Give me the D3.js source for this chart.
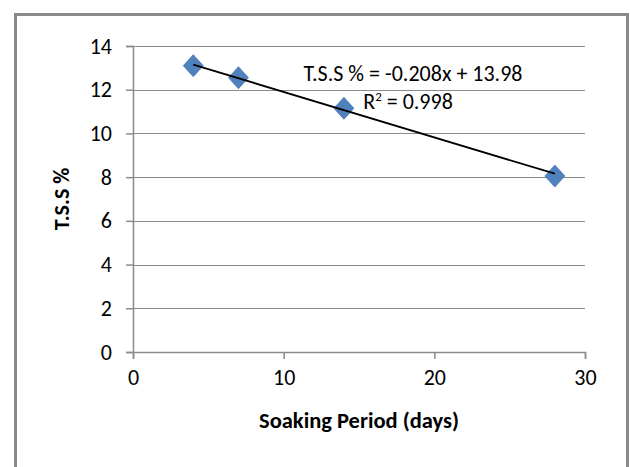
<!DOCTYPE html>
<html><head><meta charset="utf-8">
<script src="https://cdn.jsdelivr.net/npm/d3@7"></script>
<style>
body{margin:0;background:#fff;}
text{font-family:Carlito,Lato,sans-serif;fill:#000;}
</style></head>
<body><svg id="c" width="630" height="467"></svg>
<script>
const soakingDays = [4, 7, 14, 28];
const tssPercent = [13.1, 12.55, 11.15, 8.05];
const xTicks = [0, 10, 20, 30];
const yTicks = [0, 2, 4, 6, 8, 10, 12, 14];
const trendSlope = -0.208, trendIntercept = 13.98;
const equationLabel = "T.S.S % = -0.208x + 13.98";
const r2Label = "0.998";
const xTitle = "Soaking Period (days)";
const yTitle = "T.S.S %";

const svg = d3.select("#c");
svg.append("path").attr("d","M15.5,467 V14.5 H627.5 V467")
  .attr("fill","none").attr("stroke","#8a8a8a").attr("stroke-width",3);

const x = d3.scaleLinear().domain([0,30]).range([133,585]);
const y = d3.scaleLinear().domain([0,14]).range([352,46]);

svg.append("g").selectAll("line").data(yTicks.filter(d=>d>0)).join("line")
  .attr("x1",x(0)).attr("x2",x(30)).attr("y1",d=>Math.round(y(d))+0.5).attr("y2",d=>Math.round(y(d))+0.5)
  .attr("stroke","#8c8c8c").attr("stroke-width",1.2);

const yAxis = svg.append("g").attr("transform",`translate(${x(0)},0)`)
  .call(d3.axisLeft(y).tickValues(yTicks).tickSize(7).tickPadding(14).tickFormat(d3.format("d")));
const xAxis = svg.append("g").attr("transform",`translate(0,${y(0)})`)
  .call(d3.axisBottom(x).tickValues(xTicks).tickSize(7).tickPadding(10).tickFormat(d3.format("d")));
[yAxis,xAxis].forEach(a=>{
  a.select(".domain").attr("stroke","#8c8c8c").attr("stroke-width",1.5);
  a.selectAll(".tick line").attr("stroke","#8c8c8c").attr("stroke-width",1.5);
  a.selectAll("text").attr("font-size",22).style("font-family","Carlito,Lato,sans-serif");
});

const xs = d3.extent(soakingDays);
svg.append("g").selectAll("path").data(soakingDays.map((d,i)=>[d,tssPercent[i]])).join("path")
  .attr("transform",d=>`translate(${x(d[0])},${y(d[1])})`)
  .attr("d","M0,-11 L10,0 L0,11 L-10,0 Z")
  .attr("fill","#4f81bd").attr("stroke","#4a7ab3").attr("stroke-width",0.8);
svg.append("line")
  .attr("x1",x(xs[0])).attr("y1",y(trendSlope*xs[0]+trendIntercept))
  .attr("x2",x(xs[1])).attr("y2",y(trendSlope*xs[1]+trendIntercept))
  .attr("stroke","#000").attr("stroke-width",1.8);

svg.append("text").attr("x",413).attr("y",81).attr("text-anchor","middle").attr("font-size",22)
  .text(equationLabel);
const r2 = svg.append("text").attr("x",408).attr("y",109).attr("text-anchor","middle").attr("font-size",22);
r2.append("tspan").text("R");
r2.append("tspan").attr("dy",-8).attr("font-size",13).text("2");
r2.append("tspan").attr("dy",8).text(" = " + r2Label);

svg.append("text").attr("x",359).attr("y",428).attr("text-anchor","middle").attr("font-size",22.5)
  .attr("font-weight","bold").text(xTitle);
svg.append("text").attr("transform","translate(69,199) rotate(-90)").attr("text-anchor","middle")
  .attr("font-size",22).attr("font-weight","bold").text(yTitle);
</script></body></html>
